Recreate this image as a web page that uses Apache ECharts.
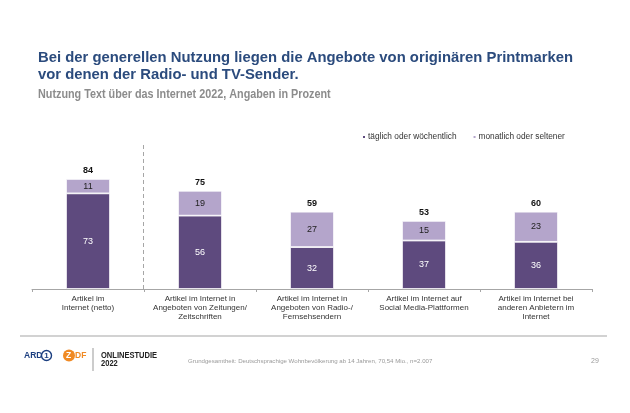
<!DOCTYPE html>
<html>
<head>
    <meta charset="utf-8"/>
    <title>Onlinestudie 2022</title>
    <script src="https://cdn.jsdelivr.net/npm/echarts@6/dist/echarts.min.js"></script>
    <style>
        html, body { margin: 0; padding: 0; background: #fff; }
        #main { width: 630px; height: 413px; }
    </style>
</head>
<body>
<div id="main"></div>
<script type="text/javascript">
    // Daten
    var categories = [
        'Artikel im\nInternet (netto)',
        'Artikel im Internet in\nAngeboten von Zeitungen/\nZeitschriften',
        'Artikel im Internet in\nAngeboten von Radio-/\nFernsehsendern',
        'Artikel im Internet auf\nSocial Media-Plattformen',
        'Artikel im Internet bei\nanderen Anbietern im\nInternet'
    ];
    var weekly = [73, 56, 32, 37, 36];
    var monthly = [11, 19, 27, 15, 23];
    var totals = [84, 75, 59, 53, 60];
    var seriesNames = ['täglich oder wöchentlich', 'monatlich oder seltener'];

    var font = 'Liberation Sans, Arial, sans-serif';
    var myChart = echarts.init(document.getElementById('main'));

    var option = {
        backgroundColor: '#fff',
        animation: false,
        textStyle: {fontFamily: font},
        legend: {
            data: seriesNames,
            left: 356, top: 128,
            itemWidth: 4, itemHeight: 4, itemGap: 15,
            icon: 'rect',
            textStyle: {fontSize: 8.3, color: '#333', fontFamily: font, padding: [0, 0, 0, -3]}
        },
        grid: {left: 32, right: 38, top: 158, bottom: 124},
        xAxis: {
            type: 'category',
            data: categories,
            axisLine: {lineStyle: {color: '#a6a6a6'}},
            axisTick: {show: true, length: 3, lineStyle: {color: '#a6a6a6'}},
            axisLabel: {fontSize: 8, color: '#333', lineHeight: 9, margin: 5, interval: 0, fontFamily: font}
        },
        yAxis: {
            type: 'value', min: 0, max: 100,
            show: false
        },
        series: [{
            name: seriesNames[0], type: 'bar', stack: 'a',
            data: weekly, barWidth: 44,
            itemStyle: {color: '#5e4a7e', borderColor: '#fff', borderWidth: 0.8},
            label: {show: true, position: 'inside', color: '#fff', fontSize: 9, fontFamily: font}
        }, {
            name: seriesNames[1], type: 'bar', stack: 'a',
            data: monthly, barWidth: 44,
            itemStyle: {color: '#b4a5cb', borderColor: '#fff', borderWidth: 0.8},
            label: {show: true, position: 'inside', color: '#222', fontSize: 9, fontFamily: font}
        }, {
            name: 'total', type: 'bar', stack: 'a',
            data: totals.map(function () { return 0; }), barWidth: 44,
            itemStyle: {color: 'transparent'},
            label: {
                show: true, position: 'top', distance: 4,
                color: '#111', fontSize: 9, fontWeight: 'bold', fontFamily: font,
                formatter: function (p) { return totals[p.dataIndex]; }
            }
        }],
        graphic: [
            // Überschrift
            {type: 'text', x: 38, y: 49, scaleX: 0.97,
                style: {text: 'Bei der generellen Nutzung liegen die Angebote von originären Printmarken\nvor denen der Radio- und TV-Sender.',
                    fill: '#2b4b7d', font: 'bold 15.3px ' + font, lineHeight: 17}},
            {type: 'text', x: 38, y: 89, scaleX: 0.9,
                style: {text: 'Nutzung Text über das Internet 2022, Angaben in Prozent',
                    fill: '#8c8c8c', font: 'bold 12px ' + font}},
            // Trennlinie nach der ersten Kategorie
            {type: 'line', shape: {x1: 143.5, y1: 145, x2: 143.5, y2: 289},
                style: {stroke: '#a6a6a6', lineWidth: 1, lineDash: [4, 3]}},
            // Fußzeile
            {type: 'line', shape: {x1: 20, y1: 336, x2: 607, y2: 336},
                style: {stroke: '#a6a6a6', lineWidth: 1.2}},
            {type: 'text', left: 24, top: 351,
                style: {text: 'ARD', fill: '#1c3f80', font: 'bold 8.5px ' + font}},
            {type: 'circle', shape: {cx: 46.5, cy: 355.5, r: 5},
                style: {fill: '#fff', stroke: '#1c3f80', lineWidth: 1.4}},
            {type: 'text', left: 44.3, top: 351.5,
                style: {text: '1', fill: '#1c3f80', font: 'bold 8px ' + font}},
            {type: 'circle', shape: {cx: 69, cy: 355.5, r: 6},
                style: {fill: '#f08a24'}},
            {type: 'text', left: 66, top: 351.5,
                style: {text: 'Z', fill: '#fff', font: 'bold 8.5px ' + font}},
            {type: 'text', left: 75, top: 351.5,
                style: {text: 'DF', fill: '#f08a24', font: 'bold 8.5px ' + font}},
            {type: 'line', shape: {x1: 93, y1: 348, x2: 93, y2: 371},
                style: {stroke: '#999', lineWidth: 1}},
            {type: 'text', x: 101, y: 351, scaleX: 0.92,
                style: {text: 'ONLINESTUDIE\n2022', fill: '#222', font: 'bold 8.2px ' + font, lineHeight: 8.5}},
            {type: 'text', left: 188, top: 358,
                style: {text: 'Grundgesamtheit: Deutschsprachige Wohnbevölkerung ab 14 Jahren, 70,54 Mio., n=2.007',
                    fill: '#9a9a9a', font: '6.1px ' + font}},
            {type: 'text', left: 591, top: 358,
                style: {text: '29', fill: '#9a9a9a', font: '7px ' + font}}
        ]
    };

    myChart.setOption(option);
</script>
</body>
</html>
